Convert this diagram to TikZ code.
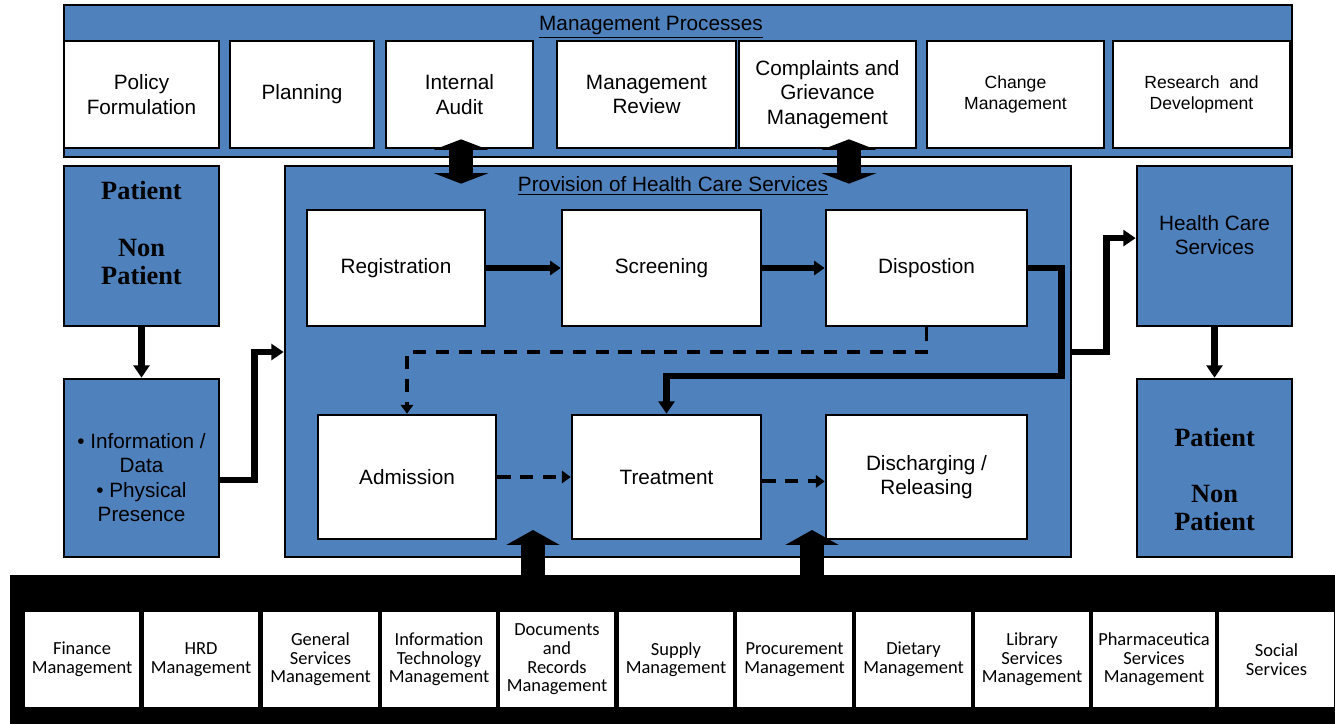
\documentclass[tikz,border=0pt]{standalone}
\usepackage{fontspec}
\setmainfont{Liberation Sans}
\newfontfamily\patfont{Liberation Serif}
\newfontfamily\supfont{Carlito}
\usetikzlibrary{positioning}
\usetikzlibrary{arrows.meta}
\definecolor{procblue}{RGB}{79,129,189}
\tikzset{
    boxsize/.style 2 args = {minimum width=#1*0.2mm, minimum height=#2*0.2mm},
    bluebox/.style = {rectangle, line width=1.5pt, draw=black, fill=procblue, inner sep=0pt, align=center, font=\fontsize{11.8}{13.8}\selectfont},
    whitebox/.style = {rectangle, line width=1.5pt, draw=black, fill=white, inner sep=0pt, align=center, font=\fontsize{11.8}{13.8}\selectfont},
    smallbox/.style = {whitebox, font=\fontsize{10}{12}\selectfont},
    patbox/.style = {bluebox, font=\patfont\bfseries\fontsize{15}{16}\selectfont},
    supbox/.style = {rectangle, line width=0.8pt, draw=black, fill=white, inner sep=0pt, align=center, font=\supfont\fontsize{10.5}{10.6}\selectfont, boxsize={116}{97}},
    titletext/.style = {inner sep=1pt, font=\fontsize{11.8}{13.8}\selectfont},
    edgen/.style = {line width=3pt, black, -{Triangle[width=8pt,length=6pt]}},
    edgew/.style = {line width=3.8pt, black, -{Triangle[width=9pt,length=7pt]}},
    edged/.style = {line width=2.2pt, black, dash pattern=on 7.5pt off 5.5pt, -{Triangle[width=7pt,length=5pt]}},
    edgeblock/.style = {line width=13.6pt, black, -{Triangle[width=30pt,length=8.5pt]}},
    edgeblock2/.style = {line width=13.6pt, black, {Triangle[width=31pt,length=6pt]}-{Triangle[width=31pt,length=6pt]}},
}

\begin{document}
\begin{tikzpicture}[x=0.2mm, y=-0.2mm]
\useasboundingbox (0,0) rectangle (1335,724);
%
% management processes
\node[bluebox, boxsize={1228}{152}] at (678,81) (mgmt) {};
\node[titletext] at (651,27) (mgmttitle) {\underline{Management Processes}};
\node[whitebox, boxsize={155}{107}] at (141.5,94.5) (policy) {Policy\\Formulation};
\node[whitebox, boxsize={144}{107}] at (302,94.5) (planning) {Planning};
\node[whitebox, boxsize={147}{107}] at (459.5,94.5) (audit) {Internal\\Audit};
\node[whitebox, boxsize={179}{107}] at (646.5,94.5) (review) {Management\\Review};
\node[whitebox, boxsize={177}{107}] at (827.5,94.5) (complaints) {Complaints and\\Grievance\\Management};
\node[smallbox, boxsize={177}{107}] at (1015.5,94.5) (change) {Change\\Management};
\node[smallbox, boxsize={177}{107}] at (1201.5,94.5) (research) {Research~ and\\Development};
%
% support processes
\node[fill=black, inner sep=0pt, boxsize={1335}{160}] at (677.5,655) (supbar) {};
\node[supbox] at (82,659.5) (finance) {Finance\\Management};
\node[supbox] at (201,659.5) (hrd) {HRD\\Management};
\node[supbox] at (320.5,659.5) (general) {General\\Services\\Management};
\node[supbox] at (439,659.5) (infotech) {Information\\Technology\\Management};
\node[supbox] at (557,659.5) (docs) {Documents\\and\\Records\\Management};
\node[supbox] at (676,659.5) (supply) {Supply\\Management};
\node[supbox] at (794.5,659.5) (procure) {Procurement\\Management};
\node[supbox] at (913.5,659.5) (dietary) {Dietary\\Management};
\node[supbox] at (1032,659.5) (library) {Library\\Services\\Management};
\node[supbox, boxsize={124}{97}] at (1154,659.5) (pharma) {Pharmaceutica\\Services\\Management};
\node[supbox, boxsize={117}{97}] at (1276.5,659.5) (social) {Social\\Services};
%
% inputs and outputs
\node[patbox, boxsize={155}{160}] at (141.5,246) (patientin) {Patient\\[16pt]Non\\Patient\\[-6pt]\strut};
\node[bluebox, boxsize={155}{178}] at (141.5,468) (info) {\strut\\[-4pt]• Information /\\Data\\• Physical\\Presence};
\node[bluebox, boxsize={155}{160}] at (1214.5,246) (hcs) {Health Care\\Services\\[-5pt]\strut};
\node[patbox, boxsize={155}{178}] at (1214.5,468) (patientout) {\strut\\[-4pt]Patient\\[16pt]Non\\Patient};
%
% provision of health care services
\node[bluebox, boxsize={786}{391}] at (678,361.5) (prov) {};
\node[titletext] at (673,186) (provtitle) {\underline{Provision of Health Care Services}};
\node[whitebox, boxsize={178}{116}] at (396,268) (reg) {Registration};
\node[whitebox, boxsize={199}{116}] at (661.5,268) (screen) {Screening};
\node[whitebox, boxsize={201}{116}] at (926.5,268) (disp) {Dispostion};
\node[whitebox, boxsize={178}{124}] at (407,477) (adm) {Admission};
\node[whitebox, boxsize={189}{124}] at (666.5,477) (treat) {Treatment};
\node[whitebox, boxsize={201}{124}] at (926.5,477) (disch) {Discharging /\\Releasing};
%
\draw[edgew] (patientin) -- (info);
\draw[edgew] ([yshift=-6.8pt]info.east) -- ++(34,0) |- ([yshift=5.4pt]prov.west);
\draw[edgen] (reg) -- (screen);
\draw[edgen] (screen) -- (disp);
\draw[edgew] (disp.east) -- ++(33,0) -- ++(0,108) -| (treat.north);
\draw[edged] (disp.south) -- ++(0,25) -| (adm.north);
\draw[edged] (adm) -- (treat);
\draw[edged] ([yshift=-2.5pt]treat.east) -- ([yshift=-2.5pt]disch.west);
\draw[edgew] ([yshift=5.4pt]prov.east) -- ++(34,0) |- ([yshift=4.5pt]hcs.west);
\draw[edgew] (hcs) -- (patientout);
%
% links to management and support
\draw[edgeblock2] ([xshift=0.9pt,yshift=5.7pt]audit.south) -- ([xshift=0.9pt,yshift=-10.8pt]audit.south |- prov.north);
\draw[edgeblock2] ([xshift=12.2pt,yshift=5.7pt]complaints.south) -- ([xshift=12.2pt,yshift=-10.8pt]complaints.south |- prov.north);
\coordinate (upadm) at (533,530);
\coordinate (uptreat) at (812,530);
\draw[edgeblock] (supbar.north -| upadm) -- (upadm);
\draw[edgeblock] (supbar.north -| uptreat) -- (uptreat);

\end{tikzpicture}
\end{document}
